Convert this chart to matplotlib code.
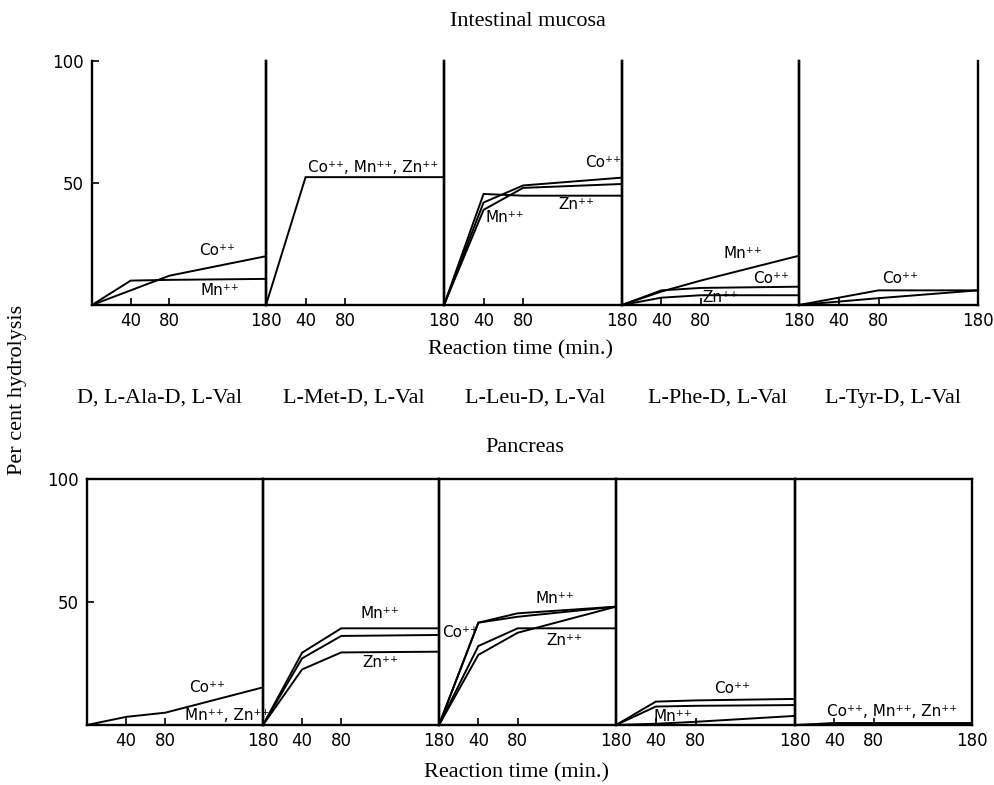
import matplotlib
matplotlib.use("Agg")
import matplotlib.pyplot as plt

# ---------------- data ----------------
times = [0, 40, 80, 180]
compounds = ["D, L-Ala-D, L-Val", "L-Met-D, L-Val", "L-Leu-D, L-Val",
             "L-Phe-D, L-Val", "L-Tyr-D, L-Val"]

# Intestinal mucosa (per cent hydrolysis at 0, 40, 80, 180 min)
mucosa_ala = {"Co": [0, 6, 12, 20], "Mn": [0, 10, 10.3, 10.7]}
mucosa_met = {"Co, Mn, Zn": [0, 52.4, 52.4, 52.4]}
mucosa_leu = {"Co": [0, 42, 49, 52.2], "Mn": [0, 39, 48, 49.6], "Zn": [0, 45.5, 44.8, 44.8]}
mucosa_phe = {"Mn": [0, 5.5, 10, 20.2], "Co": [0, 6, 7, 7.5], "Zn": [0, 3, 4, 4]}
mucosa_tyr = {"Co": [0, 3, 6, 6], "Mn": [0, 1.4, 2.8, 6]}

# Pancreas
pancreas_ala = {"Co": [0, 3.3, 5.0, 15.3], "Mn, Zn": [0, 0, 0, 0]}
pancreas_met = {"Mn": [0, 29.4, 39.3, 39.3], "Co": [0, 27.1, 36.2, 36.6], "Zn": [0, 22.6, 29.5, 29.8]}
pancreas_leu = {"Mn": [0, 41.6, 45.4, 48.1], "Co": [0, 41.6, 44.0, 48.1],
                "Zn": [0, 32.1, 39.3, 39.3], "other": [0, 28.5, 37.5, 48.1]}
pancreas_phe = {"Co": [0, 9.5, 10.0, 10.6], "Zn": [0, 7.5, 7.8, 8.1], "Mn": [0, 0.5, 1.3, 3.7]}
pancreas_tyr = {"Co, Mn, Zn": [0, 0.8, 0.8, 0.8]}

mucosa = [mucosa_ala, mucosa_met, mucosa_leu, mucosa_phe, mucosa_tyr]
pancreas = [pancreas_ala, pancreas_met, pancreas_leu, pancreas_phe, pancreas_tyr]

xtick_vals = [40, 80, 180]
ytick_vals = [50, 100]

# ------------- label placement (layout only) -------------
PP = "\u207a\u207a"
mucosa_labels = [
    [("Co" + PP, 129, 22.5), ("Mn" + PP, 132, 6)],
    [("Co" + PP + ", Mn" + PP + ", Zn" + PP, 108, 56.5)],
    [("Co" + PP, 161, 58.6), ("Mn" + PP, 62, 35.7), ("Zn" + PP, 134, 41)],
    [("Mn" + PP, 123, 21.3), ("Co" + PP, 152, 11), ("Zn" + PP, 100, 2.9)],
    [("Co" + PP, 101.6, 11)],
]
pancreas_labels = [
    [("Co" + PP, 123, 15.4), ("Mn" + PP + ", Zn" + PP, 143, 4)],
    [("Mn" + PP, 120, 45.5), ("Zn" + PP, 120, 25.6)],
    [("Co" + PP, 21, 37.8), ("Mn" + PP, 118, 51.6), ("Zn" + PP, 128, 34.5)],
    [("Co" + PP, 117, 15), ("Mn" + PP, 57, 3.3)],
    [("Co" + PP + ", Mn" + PP + ", Zn" + PP, 99, 5.3)],
]

W, H = 994, 785
fig = plt.figure(figsize=(W / 100, H / 100), dpi=100)

serif = "Liberation Serif"
sans = "DejaVu Sans"


def row(edges, top_px, bot_px, data, labels, top_spine):
    axes = []
    for i in range(5):
        l, r = edges[i], edges[i + 1]
        ax = fig.add_axes([l / W, 1 - bot_px / H, (r - l) / W, (bot_px - top_px) / H])
        for key, vals in data[i].items():
            ax.plot(times, vals, color="black", lw=1.4, solid_joinstyle="miter")
        ax.set_xlim(0, 180)
        ax.set_ylim(0, 100)
        ax.set_xticks(xtick_vals)
        ax.set_xticklabels([str(v) for v in xtick_vals], fontfamily=sans, fontsize=12)
        ax.tick_params(axis="x", direction="in", length=5, width=1.2, pad=5)
        if i == 0:
            ax.set_yticks(ytick_vals)
            ax.set_yticklabels([str(v) for v in ytick_vals], fontfamily=sans, fontsize=12)
            ax.tick_params(axis="y", direction="in", length=5, width=1.2, pad=6)
        else:
            ax.set_yticks([])
        for s in ["left", "right", "bottom", "top"]:
            ax.spines[s].set_linewidth(1.7)
        ax.spines["top"].set_visible(top_spine)
        for txt, tx, ty in labels[i]:
            ax.text(tx, ty, txt, fontfamily=sans, fontsize=11, ha="center", va="center")
        ax.patch.set_alpha(0)
        axes.append(ax)
    return axes


row([92, 266, 444, 622, 799, 978], 61, 305, mucosa, mucosa_labels, False)
row([87, 263, 439, 616, 795, 972], 479, 725, pancreas, pancreas_labels, True)

TS = 16
fig.text(528 / W, 1 - 22 / H, "Intestinal mucosa", ha="center", va="center",
         fontfamily=serif, fontsize=TS)
fig.text(520 / W, 1 - 350 / H, "Reaction time (min.)", ha="center", va="center",
         fontfamily=serif, fontsize=TS)
for cx, name in zip([160, 354, 535, 718, 893], compounds):
    fig.text(cx / W, 1 - 398 / H, name, ha="center", va="center",
             fontfamily=serif, fontsize=TS)
fig.text(525 / W, 1 - 448 / H, "Pancreas", ha="center", va="center",
         fontfamily=serif, fontsize=TS)
fig.text(517 / W, 1 - 773 / H, "Reaction time (min.)", ha="center", va="center",
         fontfamily=serif, fontsize=TS)
fig.text(18 / W, 1 - 390 / H, "Per cent hydrolysis", ha="center", va="center",
         rotation=90, fontfamily=serif, fontsize=TS)

fig.savefig("out.png", dpi=100)
